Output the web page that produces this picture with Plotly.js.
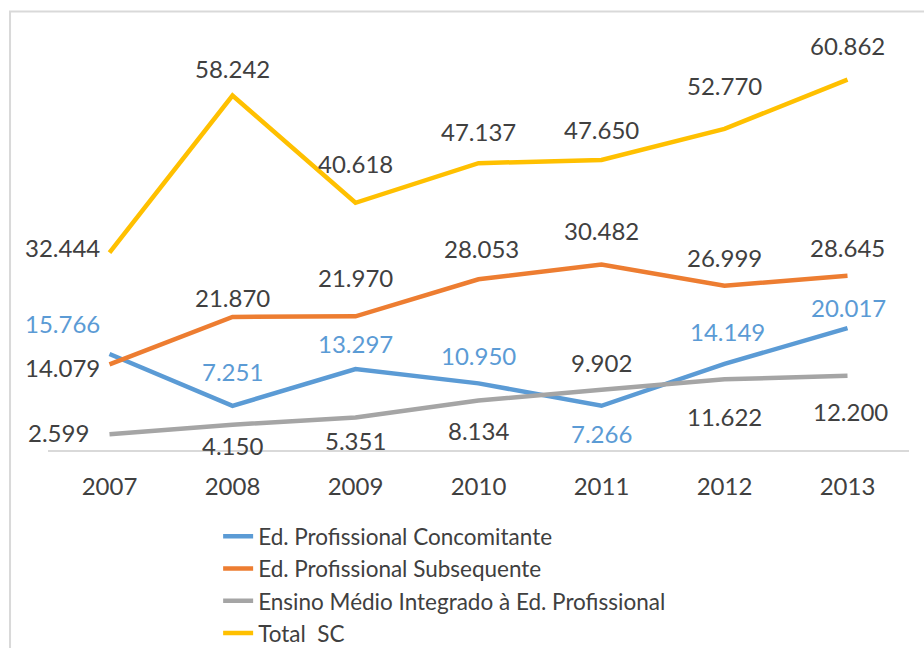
<!DOCTYPE html>
<html><head><meta charset="utf-8">
<script src="https://cdn.plot.ly/plotly-3.0.1.min.js"></script>
<style>body{margin:0;background:#fff}</style>
</head><body><div id="chart" style="width:924px;height:648px"></div>
<script>
const years = ['2007','2008','2009','2010','2011','2012','2013'];
const seriesNames = ['Ed. Profissional Concomitante','Ed. Profissional Subsequente','Ensino Médio Integrado à Ed. Profissional','Total  SC'];
const concomitante = [15766, 7251, 13297, 10950, 7266, 14149, 20017];
const subsequente = [14079, 21870, 21970, 28053, 30482, 26999, 28645];
const integrado = [2599, 4150, 5351, 8134, 9902, 11622, 12200];
const totalSC = [32444, 58242, 40618, 47137, 47650, 52770, 60862];

// styling
const colors = ['#5B9BD5','#ED7D31','#A5A5A5','#FFC000'];
const labelColors = ['#5B9BD5','#404040','#404040','#404040'];
const xShifts = [
  [-47,0,0,0,0,3,1],
  [-47,0,0,3,0,0,0],
  [-51,0,0,0,0,0,3],
  [-47,0,0,0,0,0,0]
];
const yShifts = [
  [31,34,26,28,-28,32,21],
  [-3,19,39,31,34,28,28],
  [2,-21,-23,-30,27,-37,-36],
  [5,27,39,32,31,43,34]
];

const allSeries = [concomitante, subsequente, integrado, totalSC];
function fmt(n){ return Math.floor(n/1000) + '.' + String(n%1000).padStart(3,'0'); }

const traces = allSeries.map((vals,i)=>({
  type:'scatter', mode:'lines', x:years, y:vals, name:seriesNames[i],
  line:{color:colors[i], width:4.5}, hoverinfo:'skip'
}));

const annotations = [];
allSeries.forEach((vals,i)=>{
  vals.forEach((v,j)=>{
    annotations.push({x:j, y:v, xref:'x', yref:'y', text:fmt(v), showarrow:false,
      xshift:xShifts[i][j], yshift:yShifts[i][j],
      font:{family:'Lato, Open Sans, sans-serif', size:24, color:labelColors[i]}});
  });
});

const layout = {
  width:924, height:648,
  margin:{l:48, r:15, t:24, b:198, autoexpand:false},
  paper_bgcolor:'#fff', plot_bgcolor:'#fff',
  font:{family:'Lato, Open Sans, sans-serif', color:'#404040'},
  xaxis:{type:'category', showgrid:false, zeroline:false, showline:true, linecolor:'#D9D9D9', linewidth:2,
    ticks:'', tickfont:{size:24, color:'#404040'}, ticklabelstandoff:14, range:[-0.5,6.5], fixedrange:true},
  yaxis:{range:[0,70000], showticklabels:false, showline:false, ticks:'', showgrid:false, zeroline:false, fixedrange:true},
  showlegend:true,
  legend:{orientation:'v', x:0.1976, xanchor:'left', y:-0.153, yanchor:'top',
    font:{size:22.5, color:'#404040'}, bgcolor:'rgba(0,0,0,0)', tracegroupgap:0},
  annotations:annotations,
  shapes:[{type:'rect', xref:'paper', yref:'paper', x0:-0.0441, x1:1.3, y0:-1, y1:1.0293,
    line:{color:'#D9D9D9', width:2}, fillcolor:'rgba(0,0,0,0)', layer:'below'}]
};
Plotly.newPlot('chart', traces, layout, {displayModeBar:false, staticPlot:true});
</script></body></html>
